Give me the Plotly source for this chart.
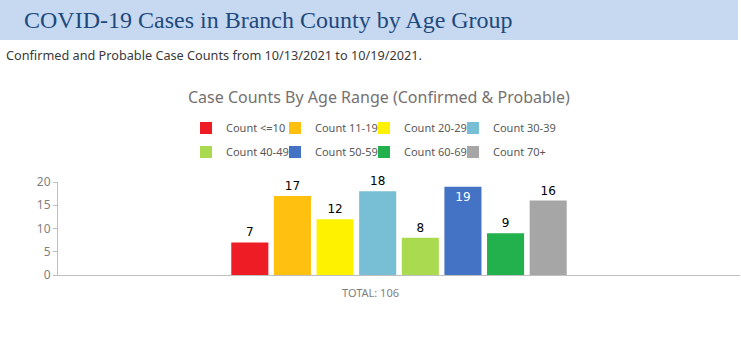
import plotly.graph_objects as go

# ---- data ----
age_groups = ["Count <=10", "Count 11-19", "Count 20-29", "Count 30-39",
              "Count 40-49", "Count 50-59", "Count 60-69", "Count 70+"]
case_counts = [7, 17, 12, 18, 8, 19, 9, 16]
bar_colors = ["#EE1C25", "#FFC010", "#FFF200", "#78BED5",
              "#A9DA4F", "#4472C4", "#22B14C", "#A6A6A6"]
y_ticks = [0, 5, 10, 15, 20]

total = sum(case_counts)
category = f"TOTAL: {total}"

W, H = 741, 344
ML, MR, MT, MB = 58, 1, 182, 69
plot_h = H - MT - MB
plot_w = W - ML - MR


def py(p):  # pixel y (from top) -> paper y
    return (H - MB - p) / plot_h


def px(p):  # pixel x -> paper x
    return (p - ML) / plot_w


fig = go.Figure()
y_max = y_ticks[-1]
legend_layouts = {}
per_row = 4
for i, (name, val, col) in enumerate(zip(age_groups, case_counts, bar_colors)):
    inside = val > y_max - 2
    lname = "legend" if i == 0 else f"legend{i + 1}"
    fig.add_trace(go.Bar(
        x=[category], y=[val], name=name,
        marker=dict(color=col, line=dict(width=0)),
        text=[str(val)],
        textposition="inside" if inside else "outside",
        insidetextanchor="end",
        textfont=dict(family="DejaVu Sans", size=12,
                      color="white" if inside else "black"),
        cliponaxis=False,
        legend=lname,
    ))
    row, colno = divmod(i, per_row)
    legend_layouts[lname] = dict(
        orientation="h", xref="paper", yref="paper",
        xanchor="left", yanchor="middle",
        x=px(186 + 89 * colno), y=py(128 + 24 * row),
        font=dict(family="Noto Sans", size=11, color="#595959"),
        bgcolor="rgba(0,0,0,0)", itemclick=False, itemdoubleclick=False,
    )

fig.update_layout(
    width=W, height=H,
    margin=dict(l=ML, r=MR, t=MT, b=MB, autoexpand=False),
    paper_bgcolor="white", plot_bgcolor="white",
    barmode="group", bargap=0.5, bargroupgap=0.13,
    showlegend=True,
    xaxis=dict(showticklabels=False, showline=True, linecolor="#BFBFBF",
               linewidth=1, ticks="", showgrid=False, zeroline=False),
    yaxis=dict(range=[0, y_max], tickvals=y_ticks, showline=True,
               linecolor="#BFBFBF", linewidth=1, ticks="outside", ticklen=4,
               tickcolor="#BFBFBF", showgrid=False, zeroline=False,
               tickfont=dict(family="Noto Sans", size=12, color="#7F7F7F")),
    shapes=[dict(type="rect", xref="paper", yref="paper",
                 x0=px(0), x1=px(738), y0=py(40), y1=py(0),
                 fillcolor="#C6D9F1", line=dict(width=0), layer="below")],
    annotations=[
        dict(text="COVID-19 Cases in Branch County by Age Group",
             xref="paper", yref="paper", x=px(22), y=py(20),
             xanchor="left", yanchor="middle", showarrow=False,
             font=dict(family="Liberation Serif", size=24, color="#1F497D")),
        dict(text="Confirmed and Probable Case Counts from 10/13/2021 to 10/19/2021.",
             xref="paper", yref="paper", x=px(4), y=py(55),
             xanchor="left", yanchor="middle", showarrow=False,
             font=dict(family="Noto Sans", size=12.7, color="#3A3A3A")),
        dict(text="Case Counts By Age Range (Confirmed & Probable)",
             xref="paper", yref="paper", x=px(379), y=py(97),
             xanchor="center", yanchor="middle", showarrow=False,
             font=dict(family="Noto Sans", size=16, color="#767171")),
        dict(text=category,
             xref="paper", yref="paper", x=px(370), y=py(292),
             xanchor="center", yanchor="middle", showarrow=False,
             font=dict(family="Noto Sans", size=11, color="#7F7F7F")),
    ],
)
fig.update_layout(**legend_layouts)

fig.write_html("out.html")
